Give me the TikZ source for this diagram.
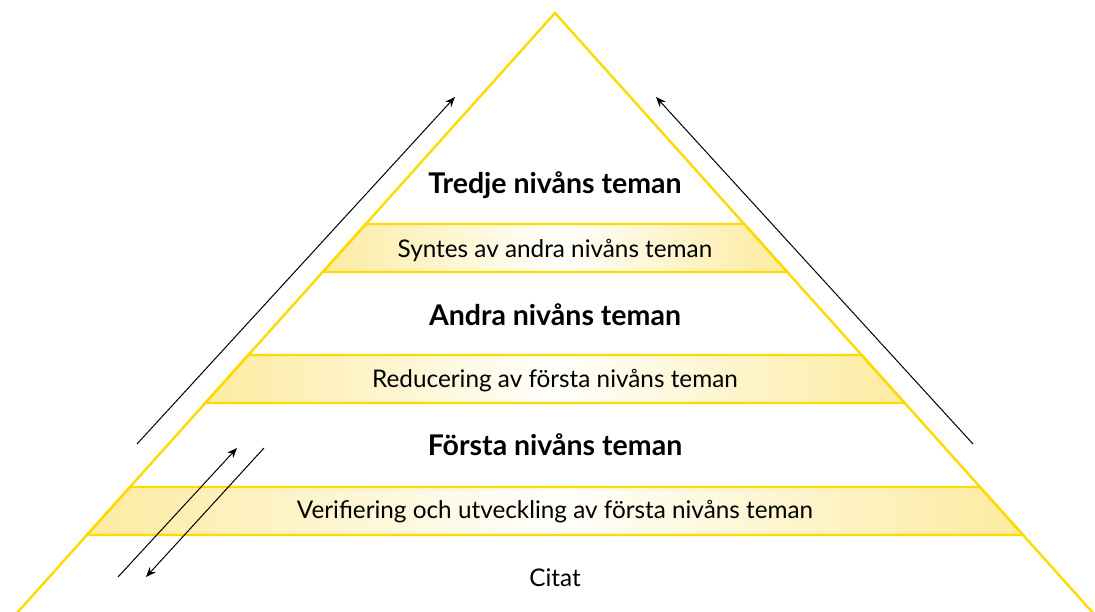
\documentclass[tikz,border=0pt]{standalone}
\usepackage{fontspec}
\setmainfont{Lato}
\usetikzlibrary{arrows.meta}
\definecolor{edgeY}{RGB}{255,218,0}
\definecolor{bandY}{RGB}{253,235,160}
\tikzset{
  edge/.style={draw=edgeY, line width=2.4pt},
  band/.style={edge, left color=bandY, right color=bandY, middle color=white!96!bandY},
  lbl/.style={font=\fontsize{24.3}{28}\selectfont, text=black},
  blbl/.style={font=\fontsize{28.5}{32}\selectfont\bfseries, text=black},
  arr/.style={draw=black, line width=1pt, -{Stealth[length=10pt,width=8pt]}},
}
\begin{document}
\begin{tikzpicture}[x=1pt,y=-1pt]
\useasboundingbox (0,0) rectangle (1095,612);
\clip (0,0) rectangle (1095,612);
% bands
\path[band] (365.8,224) -- (744.2,224) -- (787.2,272) -- (322.8,272) -- cycle;
\path[band] (248.4,355) -- (861.6,355) -- (904.7,403) -- (205.3,403) -- cycle;
\path[band] (130,487) -- (980,487) -- (1023,535) -- (87,535) -- cycle;
% triangle
\coordinate (apex) at (555,13);
\coordinate (bl) at (15.2,615);
\coordinate (br) at (1094.8,615);
\draw[edge, line join=miter] (bl) -- (apex) -- (br);
% labels
\node[blbl] (t3) at (555,185) {Tredje nivåns teman};
\node[lbl] (s2) at (555,250) {Syntes av andra nivåns teman};
\node[blbl] (t2) at (555,315) {Andra nivåns teman};
\node[lbl] (r1) at (555,381) {Reducering av första nivåns teman};
\node[blbl] (t1) at (555,445) {Första nivåns teman};
\node[lbl] (v1) at (555,512) {Verifiering och utveckling av första nivåns teman};
\node[lbl] (c) at (555,578) {Citat};
% arrows
\coordinate (a1s) at (137,444);
\coordinate (a1e) at (455,97);
\coordinate (a2s) at (973,444);
\coordinate (a2e) at (656,97);
\coordinate (a3s) at (118,577);
\coordinate (a3e) at (237,448);
\coordinate (a4s) at (264,448);
\coordinate (a4e) at (146,577);
\draw[arr] (a1s) -- (a1e);
\draw[arr] (a2s) -- (a2e);
\draw[arr] (a3s) -- (a3e);
\draw[arr] (a4s) -- (a4e);
\end{tikzpicture}
\end{document}
